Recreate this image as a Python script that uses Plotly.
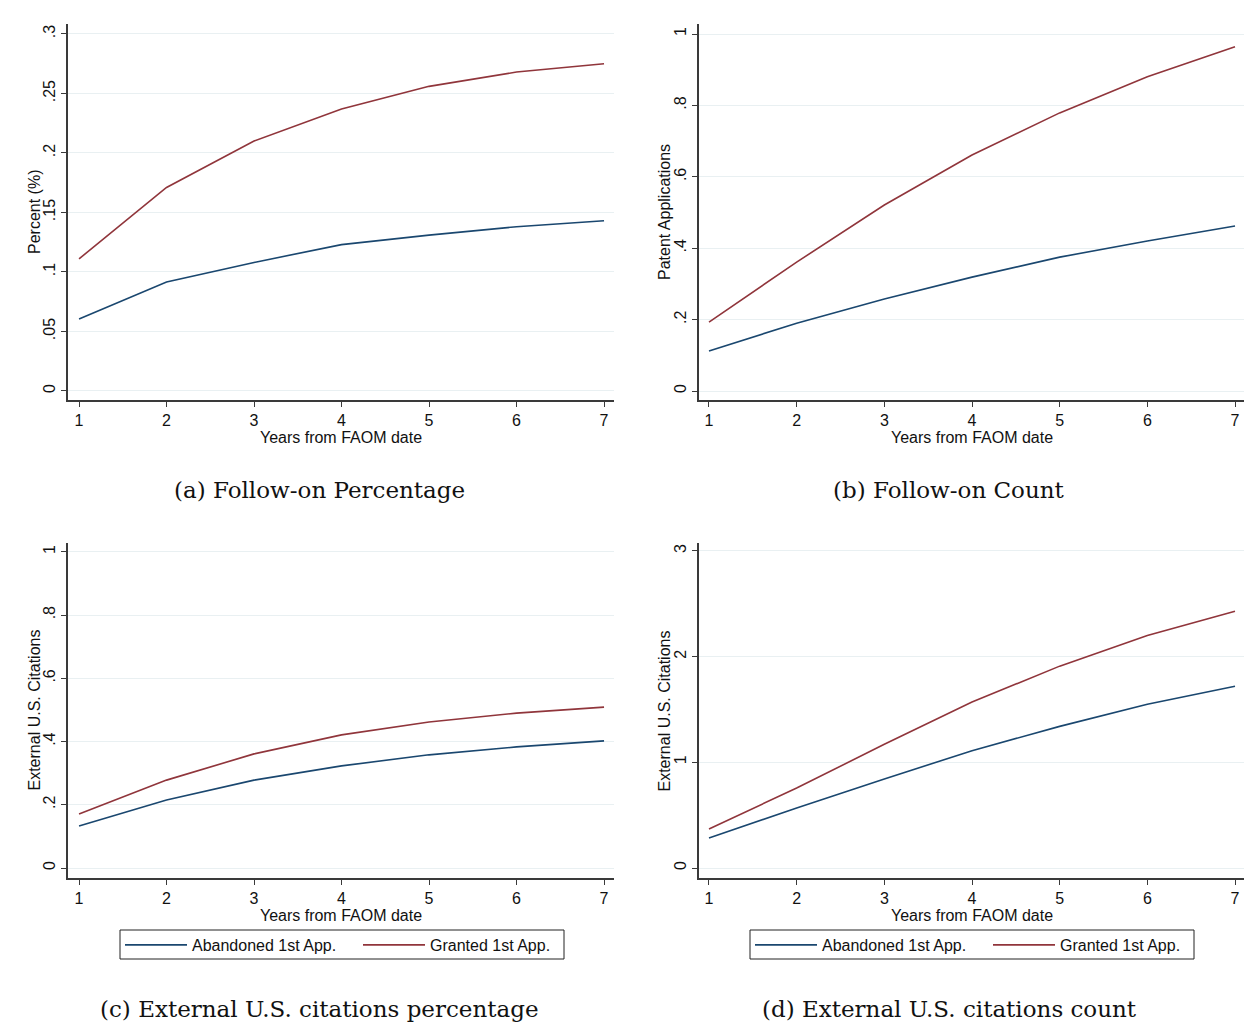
import plotly.graph_objects as go

years = [1, 2, 3, 4, 5, 6, 7]

# (a) Follow-on Percentage
a_abandoned = [0.0605, 0.0916, 0.108, 0.123, 0.131, 0.138, 0.143]
a_granted = [0.111, 0.171, 0.210, 0.237, 0.256, 0.268, 0.275]
# (b) Follow-on Count
b_abandoned = [0.112, 0.190, 0.258, 0.319, 0.375, 0.420, 0.462]
b_granted = [0.193, 0.361, 0.521, 0.661, 0.779, 0.880, 0.964]
# (c) External U.S. citations percentage
c_abandoned = [0.133, 0.215, 0.278, 0.323, 0.358, 0.383, 0.402]
c_granted = [0.171, 0.278, 0.361, 0.421, 0.462, 0.490, 0.509]
# (d) External U.S. citations count
d_abandoned = [0.284, 0.568, 0.842, 1.11, 1.34, 1.55, 1.72]
d_granted = [0.369, 0.757, 1.17, 1.57, 1.91, 2.20, 2.43]

a_ticks = [0, 0.05, 0.1, 0.15, 0.2, 0.25, 0.3]
a_ticktext = ["0", ".05", ".1", ".15", ".2", ".25", ".3"]
b_ticks = [0, 0.2, 0.4, 0.6, 0.8, 1]
b_ticktext = ["0", ".2", ".4", ".6", ".8", "1"]
d_ticks = [0, 1, 2, 3]
d_ticktext = ["0", "1", "2", "3"]

ytitles = ["Percent (%)", "Patent Applications", "External U.S. Citations", "External U.S. Citations"]
xtitle = "Years from FAOM date"
captions = ["(a) Follow-on Percentage", "(b) Follow-on Count",
            "(c) External U.S. citations percentage", "(d) External U.S. citations count"]
series_names = ["Abandoned 1st App.", "Granted 1st App."]

BLUE = "#1a476f"
RED = "#90353b"
GRID = "#e9f0f2"
AXIS = "#3a3a3a"
FONT = "Liberation Sans, Arial, sans-serif"

# page body has an 8px margin; compensate so the figure fills the 1252x1023 window
OFF = 8
W, H = 1252 - OFF, 1023 - OFF

def px_x(p):
    return (p - OFF) / W

def px_y(p):
    return 1 - (p - OFF) / H

panels = [
    dict(ab=a_abandoned, gr=a_granted, ticks=a_ticks, tt=a_ticktext, ytx=34,
         xdom=(68, 614), ydom=(24, 400), yrange=(-0.0076, 0.3084), xrange=(0.874, 7.114),
         legends=None, box=None),
    dict(ab=b_abandoned, gr=b_granted, ticks=b_ticks, tt=b_ticktext, ytx=664,
         xdom=(699, 1245), ydom=(24, 400), yrange=(-0.0252, 1.028), xrange=(0.886, 7.114),
         legends=None, box=None),
    dict(ab=c_abandoned, gr=c_granted, ticks=b_ticks, tt=b_ticktext, ytx=34,
         xdom=(68, 614), ydom=(543, 878), yrange=(-0.0316, 1.028), xrange=(0.874, 7.114),
         legends=(("legend", 128), ("legend2", 366)), box=(120, 564)),
    dict(ab=d_abandoned, gr=d_granted, ticks=d_ticks, tt=d_ticktext, ytx=664,
         xdom=(699, 1245), ydom=(543, 878), yrange=(-0.0946, 3.075), xrange=(0.886, 7.114),
         legends=(("legend3", 758), ("legend4", 996)), box=(750, 1194)),
]

fig = go.Figure()
layout = dict(width=W, height=H, margin=dict(l=0, r=0, t=0, b=0),
              paper_bgcolor="white", plot_bgcolor="white",
              font=dict(family=FONT, size=16, color="#111"))
annotations = []
shapes = []

LEG_Y = 945
legend_common = dict(orientation="h", xanchor="left", yanchor="middle",
                     borderwidth=0, bgcolor="rgba(0,0,0,0)",
                     font=dict(size=16, family=FONT, color="#111"), itemwidth=62)

for i, p in enumerate(panels):
    k = "" if i == 0 else str(i + 1)
    xa, ya = "x" + k, "y" + k
    for j, (vals, name, col) in enumerate([(p["ab"], series_names[0], BLUE),
                                           (p["gr"], series_names[1], RED)]):
        tr = dict(x=years, y=vals, mode="lines", name=name, xaxis=xa, yaxis=ya,
                  line=dict(color=col, width=1.6), hoverinfo="skip")
        if p["legends"]:
            lname, lx = p["legends"][j]
            tr["legend"] = lname
            tr["showlegend"] = True
            layout[lname] = dict(x=px_x(lx - 8), y=px_y(LEG_Y), **legend_common)
        else:
            tr["showlegend"] = False
        fig.add_trace(go.Scatter(**tr))
    if p["box"]:
        shapes.append(dict(type="rect", xref="paper", yref="paper",
                           x0=px_x(p["box"][0]), x1=px_x(p["box"][1]),
                           y0=px_y(959), y1=px_y(930),
                           line=dict(color="#222", width=1), fillcolor="rgba(0,0,0,0)"))
    layout["xaxis" + k] = dict(
        domain=[px_x(p["xdom"][0]), px_x(p["xdom"][1])], anchor=ya,
        range=list(p["xrange"]), tickvals=years, ticktext=[str(v) for v in years],
        showline=True, linecolor=AXIS, linewidth=1.5, ticks="outside", ticklen=5,
        tickcolor=AXIS, showgrid=False, zeroline=False,
        tickfont=dict(size=16, family=FONT, color="#111"),
        title=dict(text=xtitle, standoff=0, font=dict(size=16, family=FONT, color="#111")))
    layout["yaxis" + k] = dict(
        domain=[px_y(p["ydom"][1]), px_y(p["ydom"][0])], anchor=xa,
        range=list(p["yrange"]), tickvals=p["ticks"], ticktext=p["tt"], tickangle=-90,
        showline=True, linecolor=AXIS, linewidth=1.5, ticks="outside", ticklen=5,
        tickcolor=AXIS, showgrid=True, gridcolor=GRID, gridwidth=1, zeroline=False,
        ticklabelstandoff=0,
        tickfont=dict(size=16, family=FONT, color="#111"))
    annotations.append(dict(text=ytitles[i], x=px_x(p["ytx"]),
                            y=px_y((p["ydom"][0] + p["ydom"][1]) / 2),
                            xref="paper", yref="paper", xanchor="center", yanchor="middle",
                            textangle=-90, showarrow=False,
                            font=dict(size=16, family=FONT, color="#111")))

cap_pos = [(319, 490), (949, 490), (319, 1009), (949, 1009)]
for cap, (cx, cy) in zip(captions, cap_pos):
    annotations.append(dict(text=cap, x=px_x(cx), y=px_y(cy), xref="paper", yref="paper",
                            xanchor="center", yanchor="middle", showarrow=False,
                            font=dict(family="DejaVu Serif, Liberation Serif, serif", size=23, color="#111")))
layout["annotations"] = annotations
layout["shapes"] = shapes

fig.update_layout(**layout)
fig.write_html("out.html")
